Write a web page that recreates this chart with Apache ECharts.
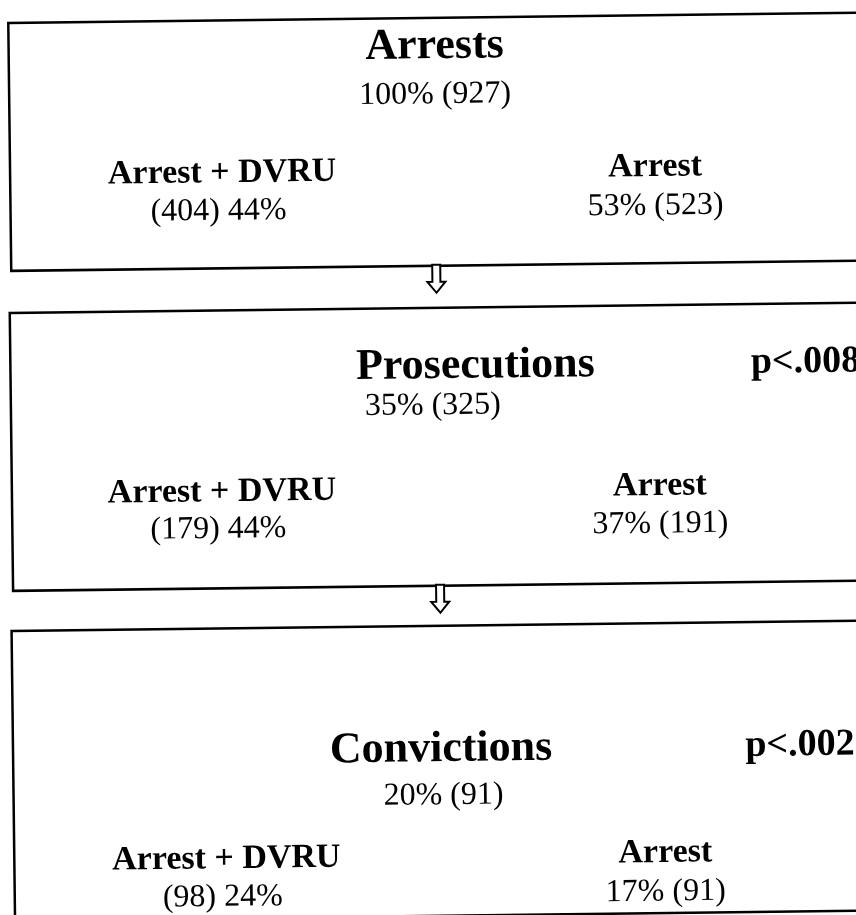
<!DOCTYPE html>
<html lang="en">
<head>
    <meta charset="UTF-8">
    <title>Arrests, prosecutions and convictions</title>
    <script src="https://cdn.jsdelivr.net/npm/echarts@6/dist/echarts.min.js"></script>
    <style>
        html, body { margin: 0; padding: 0; background: #fff; }
    </style>
</head>
<body>
    <div id="main" style="width:856px;height:915px;"></div>
    <script>
        // data
        var stages = ['Arrests', 'Prosecutions', 'Convictions'];
        var totalPct = [100, 35, 20];
        var totalN = [927, 325, 91];
        var dvruN = [404, 179, 98];
        var dvruPct = [44, 44, 24];
        var arrestPct = [53, 37, 17];
        var arrestN = [523, 191, 91];
        var pValues = ['', 'p<.008', 'p<.002'];
        var groupLabels = ['Arrest + DVRU', 'Arrest'];

        // layout (in the unrotated page, scan is tilted a little)
        var boxes = [
            { x: 8, y: 23, h: 248, title: 52, total: 100, lab: 176, val: 214, tx: 434, totx: 434 },
            { x: 6, y: 313, h: 278, title: 372, total: 411, lab: 495, val: 532, tx: 471, totx: 428 },
            { x: 4, y: 631, h: 290, title: 755, total: 801, lab: 862, val: 900, tx: 432, totx: 434 }
        ];
        var leftX = [220, 216, 216];
        var rightX = [653, 654, 655];
        var pX = [0, 801, 791];
        var arrows = [{ x: 433, y: 270 }, { x: 433, y: 590 }];

        var font = '"Liberation Serif", "Times New Roman", serif';

        function txt(str, x, y, size, bold) {
            return {
                type: 'text',
                x: x,
                y: y,
                style: {
                    text: str,
                    fill: '#000',
                    font: (bold ? 'bold ' : '') + size + 'px ' + font,
                    textAlign: 'center',
                    textVerticalAlign: 'middle'
                }
            };
        }

        var children = [];
        for (var i = 0; i < stages.length; i++) {
            var b = boxes[i];
            children.push({
                type: 'rect',
                shape: { x: b.x, y: b.y, width: 900, height: b.h },
                style: { fill: 'none', stroke: '#000', lineWidth: 2.5 }
            });
            children.push(txt(stages[i], b.tx, b.title, 44, true));
            children.push(txt(totalPct[i] + '% (' + totalN[i] + ')', b.totx, b.total, 32, false));
            children.push(txt(groupLabels[0], leftX[i], b.lab, 34, true));
            children.push(txt('(' + dvruN[i] + ') ' + dvruPct[i] + '%', leftX[i] - 4, b.val, 32, false));
            children.push(txt(groupLabels[1], rightX[i], b.lab - 1, 34, true));
            children.push(txt(arrestPct[i] + '% (' + arrestN[i] + ')', rightX[i], b.val, 32, false));
            if (pValues[i]) {
                children.push(txt(pValues[i], pX[i], b.title, 38, true));
            }
        }

        // hollow down arrows between the boxes
        arrows.forEach(function (a) {
            children.push({
                type: 'polygon',
                shape: {
                    points: [
                        [a.x - 4, a.y], [a.x + 4, a.y], [a.x + 4, a.y + 17],
                        [a.x + 9, a.y + 17], [a.x, a.y + 28], [a.x - 9, a.y + 17],
                        [a.x - 4, a.y + 17]
                    ]
                },
                style: { fill: '#fff', stroke: '#000', lineWidth: 2 }
            });
        });

        var myChart = echarts.init(document.getElementById('main'));
        var option = {
            backgroundColor: '#fff',
            animation: false,
            graphic: [{
                type: 'group',
                x: 0,
                y: 0,
                rotation: 0.012,
                children: children
            }]
        };
        myChart.setOption(option);
    </script>
</body>
</html>
